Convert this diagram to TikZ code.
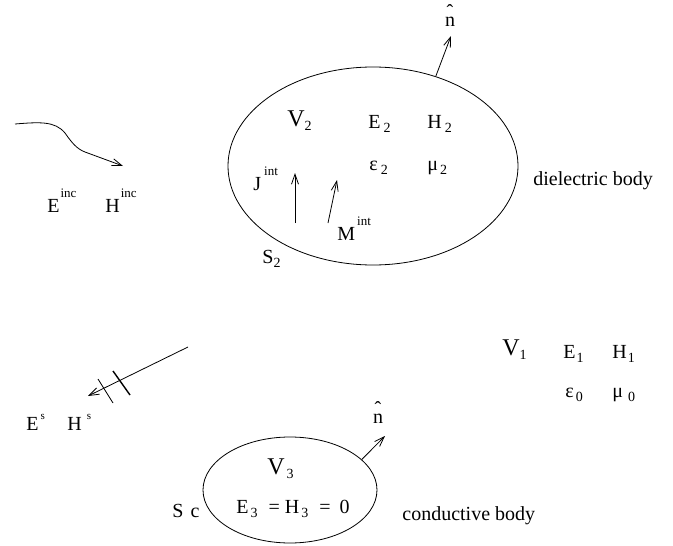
\documentclass[tikz,border=0pt]{standalone}
\usepackage{fontspec}
\setmainfont{Liberation Serif}
\usetikzlibrary{arrows.meta,shapes.geometric}

\newcommand{\lsub}[3][1pt]{#2\hspace{#1}\raisebox{-4pt}{\fontsize{14}{14}\selectfont #3}}
\newcommand{\lsup}[3][1pt]{#2\hspace{#1}\raisebox{15pt}{\fontsize{13}{13}\selectfont #3}}
\newcommand{\nhat}{\ooalign{n\cr\hidewidth\raisebox{8pt}{\char"02C6}\hidewidth\cr}}

\begin{document}
\begin{tikzpicture}[x=1pt, y=-1pt, line width=0.8pt,
    >={Straight Barb[length=10pt,width=7pt]},
    lbl/.style={inner sep=0pt, anchor=base west, font=\fontsize{20}{20}\selectfont},
    biglbl/.style={lbl, font=\fontsize{24}{24}\selectfont},
    body/.style={ellipse, draw, inner sep=0pt}]

    \useasboundingbox (0,0) rectangle (673,546);

    % Dielectric body
    \node[body, minimum width=290pt, minimum height=198pt] (dielec) at (373,166) {};
    \node[biglbl] (vtwo) at (287,126) {\lsub[0pt]{V}{2}};
    \node[lbl] (etwo) at (368,128) {\lsub[3pt]{E}{2}};
    \node[lbl] (htwo) at (427,128) {\lsub[3pt]{H}{2}};
    \node[lbl] (epstwo) at (369,170) {\lsub[3pt]{ε}{2}};
    \node[lbl] (mutwo) at (427,170) {\lsub[2pt]{μ}{2}};
    \node[lbl] (jint) at (253,190) {\lsup[3pt]{J}{int}};
    \node[lbl] (mint) at (337,240) {\lsup[2pt]{M}{int}};
    \node[lbl] (stwo) at (262,263) {\lsub[0pt]{S}{2}};
    \node[lbl] (dieltxt) at (533,185) {dielectric body};

    % Normal on the dielectric body
    \coordinate (ntipA) at (451,36);
    \draw[->] (dielec.55) -- (ntipA);
    \node[lbl, anchor=base] (nA) at (450,27) {\nhat};

    % Internal sources
    \coordinate (jtail) at (295,223);
    \coordinate (jtip) at (295,173);
    \draw[->] (jtail) -- (jtip);
    \coordinate (mtail) at (328,223);
    \coordinate (mtip) at (337,180);
    \draw[->] (mtail) -- (mtip);

    % Incident field
    \coordinate (incstart) at (15,124);
    \coordinate (inctip) at (123,166);
    \draw[->] (incstart) .. controls (40,122) and (55,121) .. (65,133)
        .. controls (72,143) and (77,149) .. (85,152) -- (inctip);
    \node[lbl] (einc) at (47,212) {\lsup{E}{inc}};
    \node[lbl] (hinc) at (105,212) {\lsup{H}{inc}};

    % Scattered field
    \coordinate (scatstart) at (188,347);
    \coordinate (scattip) at (88,396);
    \draw[->] (scatstart) -- (scattip);
    \draw (98,379) -- (113,403);
    \draw[line width=1.4pt] (113,371) -- (130,395);
    \node[lbl] (es) at (26,430) {E\hspace{2pt}\raisebox{11pt}{\fontsize{11}{11}\selectfont s}};
    \node[lbl] (hs) at (67,430) {H\hspace{5pt}\raisebox{11pt}{\fontsize{11}{11}\selectfont s}};

    % Outer region
    \node[biglbl] (vone) at (502,355) {\lsub[0pt]{V}{1}};
    \node[lbl] (eone) at (563,358) {\lsub[1pt]{E}{1}};
    \node[lbl] (hone) at (612,358) {\lsub[1pt]{H}{1}};
    \node[lbl] (epszero) at (565,397) {\lsub[2pt]{ε}{0}};
    \node[lbl] (muzero) at (612,397) {\lsub[5pt]{μ}{0}};

    % Conductive body
    \node[body, minimum width=174pt, minimum height=106pt] (cond) at (290,490) {};
    \node[biglbl] (vthree) at (267,474) {\lsub[2pt]{V}{3}};
    \node[lbl] (ezero) at (236,513) {\lsub[2pt]{E}{3}\hspace{11pt}=\hspace{5pt}\lsub[2pt]{H}{3}\hspace{11pt}=\hspace{9pt}0};
    \node[lbl] (sc) at (172,517) {S\hspace{7pt}c};
    \node[lbl] (condtxt) at (402,520) {conductive body};

    % Normal on the conductive body
    \coordinate (ntipB) at (385,436);
    \draw[->] (cond.23) -- (ntipB);
    \node[lbl, anchor=base] (nB) at (378,423) {\nhat};
\end{tikzpicture}
\end{document}
